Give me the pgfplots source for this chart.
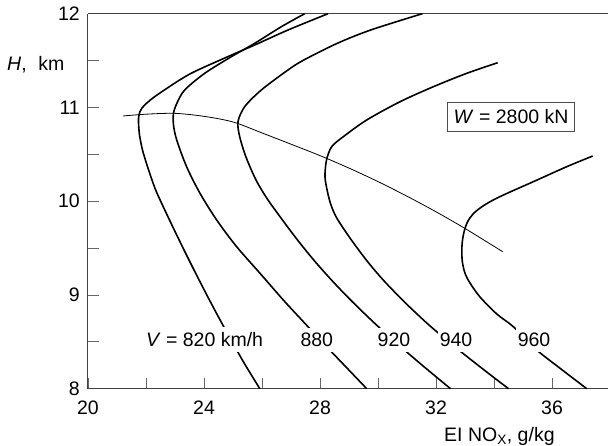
\documentclass[border=0pt]{standalone}
\usepackage{fontspec}
\setmainfont{Liberation Sans}
\usepackage{pgfplots}
\pgfplotsset{compat=1.18}
\begin{document}
\fontsize{19.5}{23}\selectfont
\begin{tikzpicture}
\begin{axis}[
  scale only axis, width=520pt, height=375pt,
  xmin=20, xmax=37.93, ymin=8, ymax=12,
  axis x line=box, axis y line=left,
  axis line style={-, line width=1pt, black!75},
  xtick={20,24,28,32,36}, ytick={8,9,10,11,12},
  minor xtick={22,26,30,34}, minor ytick={8.5,9.5,10.5,11.5},
  xtick pos=left, ytick pos=left, tick align=inside,
  major tick length=11pt, minor tick length=11pt,
  every tick/.style={black!60, line width=0.8pt},
  tick label style={font=\fontsize{19.5}{23}\selectfont},
  xticklabel style={yshift=-5pt},
  yticklabel style={xshift=-1.5pt},
  /pgf/number format/assume math mode=true,
  clip=false,
]
% V = 820
\addplot[black, line width=1.6pt, smooth, tension=0.5] coordinates {
(28.276,12.000) (26.897,11.826) (25.748,11.666) (24.597,11.511) (23.448,11.346)
(22.300,11.115) (21.862,10.994) (21.759,10.919) (21.741,10.845) (21.776,10.706)
(21.879,10.546) (22.034,10.386) (22.207,10.226) (22.362,10.098) (22.655,9.901)
(23.000,9.677) (23.345,9.458) (23.690,9.245) (24.034,9.037) (24.379,8.834)
(24.724,8.637) (25.069,8.445) (25.414,8.258) (25.924,8.000)};
% V = 880
\addplot[black, line width=1.6pt, smooth, tension=0.5] coordinates {
(27.472,12.000) (26.666,11.861) (25.748,11.684) (24.941,11.541) (24.024,11.364)
(23.334,11.186) (23.069,11.047) (22.948,10.938) (22.948,10.813) (23.059,10.653)
(23.400,10.368) (23.862,10.084) (24.438,9.799) (25.124,9.515) (25.931,9.231)
(26.734,8.946) (27.424,8.715) (28.172,8.466) (28.897,8.231) (29.610,8.000)};
% V = 920
\addplot[black, line width=1.6pt, smooth, tension=0.5] coordinates {
(31.528,12.000) (29.748,11.826) (28.597,11.684) (27.448,11.507) (26.897,11.400)
(25.976,11.186) (25.403,11.008) (25.172,10.848) (25.231,10.688) (25.448,10.471)
(25.793,10.226) (26.172,10.029) (26.621,9.835) (27.197,9.597) (27.769,9.378)
(28.345,9.176) (28.921,8.988) (29.493,8.813) (30.069,8.645) (30.872,8.423)
(31.679,8.210) (32.500,8.000)};
% V = 940
\addplot[black, line width=1.6pt, smooth, tension=0.5] coordinates {
(34.128,11.477) (33.059,11.364) (31.907,11.221) (30.759,11.061) (29.610,10.866)
(28.803,10.688) (28.403,10.581) (28.224,10.439) (28.172,10.261) (28.259,10.098)
(28.379,9.959) (28.576,9.821) (29.034,9.607) (29.610,9.367) (30.183,9.158)
(30.872,8.937) (31.448,8.767) (31.907,8.639) (32.828,8.402) (33.748,8.178)
(34.500,8.000)};
% V = 960
\addplot[black, line width=1.6pt, smooth, tension=0.5] coordinates {
(37.403,10.482) (36.507,10.368) (35.355,10.208) (34.552,10.098) (34.034,10.023)
(33.621,9.949) (33.310,9.874) (33.103,9.789) (32.983,9.693) (32.914,9.586)
(32.890,9.480) (32.907,9.355) (33.000,9.231) (33.172,9.127) (33.517,8.978)
(34.093,8.797) (34.666,8.661) (35.472,8.413) (36.276,8.218) (37.197,8.000)};
% thin line (W = 2800 kN)
\addplot[black, line width=0.8pt, smooth] coordinates {
(21.207,10.909) (22.000,10.928) (23.000,10.937) (24.000,10.905) (25.000,10.845)
(26.000,10.728) (27.000,10.608) (28.000,10.486) (29.000,10.353) (30.000,10.209)
(31.000,10.053) (32.000,9.887) (33.000,9.709) (34.300,9.461)};
% labels
\node[anchor=base, fill=white, inner xsep=2pt, inner ysep=5pt] at (axis cs:24.02,8.45) {\textit{V} = 820 km/h};
\node[anchor=base, fill=white, inner xsep=2pt, inner ysep=5pt] at (axis cs:27.89,8.45) {880};
\node[anchor=base, fill=white, inner xsep=2pt, inner ysep=5pt] at (axis cs:30.55,8.45) {920};
\node[anchor=base, fill=white, inner xsep=2pt, inner ysep=5pt] at (axis cs:32.69,8.45) {940};
\node[anchor=base, fill=white, inner xsep=2pt, inner ysep=5pt] at (axis cs:35.38,8.45) {960};
\node[draw=black!70, line width=0.6pt, fill=white, inner xsep=6pt, inner ysep=7pt] at (axis cs:34.59,10.90) {\textit{W} = 2800 kN};
\node[anchor=base west, inner sep=0pt] at (axis cs:17.207,11.39) {\textit{H},\hspace{0.6em}km};
\node[anchor=base west, inner sep=0pt] at (axis cs:32.276,7.442) {EI NO\textsubscript{X}, g/kg};
\end{axis}
\pgfresetboundingbox
\path (-88pt,-57.3pt) rectangle (520pt,388.7pt);
\end{tikzpicture}
\end{document}
